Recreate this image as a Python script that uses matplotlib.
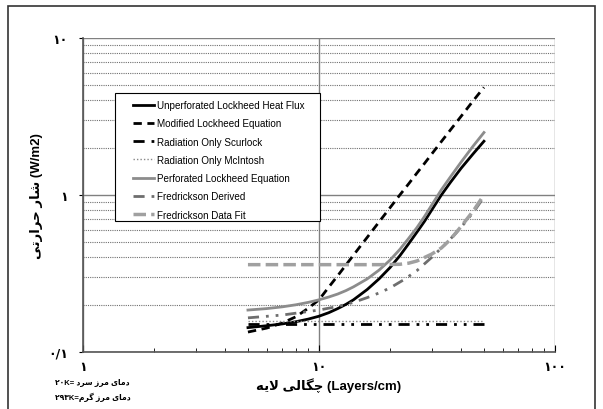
import numpy as np
import matplotlib
matplotlib.use('Agg')
import matplotlib.pyplot as plt
from matplotlib.patches import Rectangle
from matplotlib.ticker import FixedLocator, NullFormatter

plt.rcParams['font.family'] = ['Liberation Sans', 'DejaVu Sans']

# layer density (Layers/cm) and heat flux (W/m2)
x_unperf = [5, 6, 7, 8, 9, 10, 11, 12, 13, 14, 16, 18, 20, 22, 24, 26, 28, 30, 33, 36, 40, 45, 50]
y_unperf = [0.143, 0.147, 0.151, 0.156, 0.162, 0.169, 0.178, 0.189, 0.201, 0.215, 0.25, 0.293, 0.345,
            0.41, 0.49, 0.58, 0.68, 0.8, 1.0, 1.2, 1.48, 1.83, 2.2]

x_mod = [5, 6, 7, 8, 9, 10, 11, 12, 13, 14, 15, 16, 18, 20, 22, 24, 26, 28, 30, 33, 36, 40, 45, 50]
y_mod = [0.134, 0.142, 0.153, 0.168, 0.19, 0.215, 0.259, 0.306, 0.358, 0.414, 0.474, 0.537, 0.676,
         0.83, 1.0, 1.18, 1.38, 1.59, 1.82, 2.19, 2.59, 3.17, 3.98, 4.85]

x_scur = [5, 50]
y_scur = [0.15, 0.15]

x_mcin = [5, 50]
y_mcin = [0.158, 0.158]

x_perf = [5, 6, 7, 8, 9, 10, 11, 12, 13, 14, 16, 18, 20, 22, 24, 26, 28, 30, 33, 36, 40, 45, 50]
y_perf = [0.185, 0.189, 0.194, 0.2, 0.207, 0.215, 0.224, 0.234, 0.246, 0.26, 0.292, 0.333, 0.385,
          0.45, 0.53, 0.62, 0.73, 0.86, 1.08, 1.3, 1.62, 2.05, 2.5]

x_fder = [5, 7, 10, 12, 14, 16, 18, 20, 23, 26, 30, 34, 38, 42, 46, 50]
y_fder = [0.165, 0.172, 0.185, 0.195, 0.207, 0.222, 0.238, 0.256, 0.29, 0.33, 0.4, 0.48, 0.57, 0.68, 0.81, 0.97]

x_ffit = [5, 8, 10, 14, 18, 22, 24, 26, 28, 30, 33, 36, 40, 45, 50]
y_ffit = [0.36, 0.36, 0.36, 0.36, 0.36, 0.362, 0.368, 0.38, 0.40, 0.42, 0.46, 0.52, 0.63, 0.79, 1.0]

x_ticks = [1, 10, 100]
x_ticklabels = ['\u06f1', '\u06f1\u06f0', '\u06f1\u06f0\u06f0']
y_ticks = [0.1, 1, 10]
y_ticklabels = ['\u06f0/\u06f1', '\u06f1', '\u06f1\u06f0']

# Persian text written in visual order with presentation forms
xlabel = ('\ufeea\ufbfe\ufefb \ufbfd\ufedf\ufe8e\ufb95\ufb7c' + ' (Layers/cm)')
ylabel = ('\ufbfd\ufe97\ufead\ufe8d\ufeae\ufea3 \ufead\ufe8e\ufeb7' + ' (W/m2)')
note1 = '\u06f2\u06f0K= \ufea9\ufeae\ufeb3 \ufeaf\ufeae\ufee3 \ufbfc\ufe8e\ufee3\ufea9'
note2 = '\u06f2\u06f9\u06f3K=\ufee1\ufeae\ufb94 \ufeaf\ufeae\ufee3 \ufbfc\ufe8e\ufee3\ufea9'

fig = plt.figure(figsize=(6.03, 4.10), dpi=100)
ax = fig.add_axes([83/603, 1-353/410, 472/603, 314/410])

ax.plot(x_unperf, y_unperf, color='black', lw=2, label='Unperforated Lockheed Heat Flux')
ax.plot(x_mod, y_mod, color='black', lw=2, dashes=(3, 2), label='Modified Lockheed Equation')
ax.plot(x_scur, y_scur, color='black', lw=2, dashes=(4, 2.5, 1, 2.5, 1, 2.5), label='Radiation Only Scurlock')
ax.plot(x_mcin, y_mcin, color='#888888', lw=1, dashes=(1, 1.5), label='Radiation Only McIntosh')
ax.plot(x_perf, y_perf, color='#8c8c8c', lw=2, label='Perforated Lockheed Equation')
ax.plot(x_fder, y_fder, color='#6e6e6e', lw=2, dashes=(4, 2.5, 1, 2.5, 1, 2.5), label='Fredrickson Derived')
ax.plot(x_ffit, y_ffit, color='#a0a0a0', lw=2.5, dashes=(3.6, 1.5), label='Fredrickson Data Fit')

ax.set_xscale('log')
ax.set_yscale('log')
ax.set_xlim(1, 100)
ax.set_ylim(0.1, 10)

ax.xaxis.set_major_locator(FixedLocator(x_ticks))
ax.set_xticklabels(x_ticklabels, fontsize=9, fontweight='bold', family='DejaVu Sans')
ax.xaxis.set_minor_locator(FixedLocator([i * 10**k for k in range(2) for i in range(2, 10)]))
ax.xaxis.set_minor_formatter(NullFormatter())
ax.yaxis.set_major_locator(FixedLocator(y_ticks))
ax.set_yticklabels(y_ticklabels, fontsize=9, fontweight='bold', family='DejaVu Sans')
ax.yaxis.set_minor_locator(FixedLocator([i * 10**k for k in (-1, 0) for i in range(2, 10)]))
ax.yaxis.set_minor_formatter(NullFormatter())

ax.tick_params(axis='x', which='major', direction='in', length=5, pad=6)
ax.tick_params(axis='x', which='minor', direction='in', length=3)
ax.tick_params(axis='y', which='major', direction='out', length=3, pad=8)
ax.tick_params(axis='y', which='minor', length=0)

ax.grid(axis='y', which='minor', color='#707070', lw=0.8, ls=(0, (1, 1)))
ax.grid(axis='y', which='major', color='#808080', lw=1, ls='-')
ax.grid(axis='x', which='major', color='#808080', lw=1, ls='-')
ax.set_axisbelow(True)

for s in ('top', 'right'):
    ax.spines[s].set_visible(False)
for s in ('left', 'bottom'):
    ax.spines[s].set_color('#555555')
    ax.spines[s].set_linewidth(1.2)

ax.set_xlabel(xlabel, fontsize=9.5, fontweight='bold')
ax.xaxis.set_label_coords(0.52, -0.08)
ax.set_ylabel(ylabel, fontsize=9.5, fontweight='bold')
ax.yaxis.set_label_coords(-0.085, 0.5)

# legend box drawn by hand so the side padding can differ from the top padding
ax.add_patch(Rectangle((32/472, 131/314), 205/472, 128/314, transform=ax.transAxes,
                       facecolor='white', edgecolor='black', lw=0.8, zorder=4))
leg = ax.legend(loc='upper left', bbox_to_anchor=(50/472, 252/314), fontsize=7.1,
                frameon=False, handlelength=2.1, handletextpad=0.3, labelspacing=0.84,
                borderpad=0, borderaxespad=0)
leg.set_zorder(5)

fig.text(55/603, 1-383/410, note1, fontsize=5.5, fontweight='bold', va='center', ha='left')
fig.text(55/603, 1-397/410, note2, fontsize=5.5, fontweight='bold', va='center', ha='left')

fig.patches.append(Rectangle((8/603, -0.05), 587/603, 1.05 - 7/410, transform=fig.transFigure,
                             fill=False, edgecolor='#333333', lw=1.2))

fig.savefig('out.png', dpi=100)
